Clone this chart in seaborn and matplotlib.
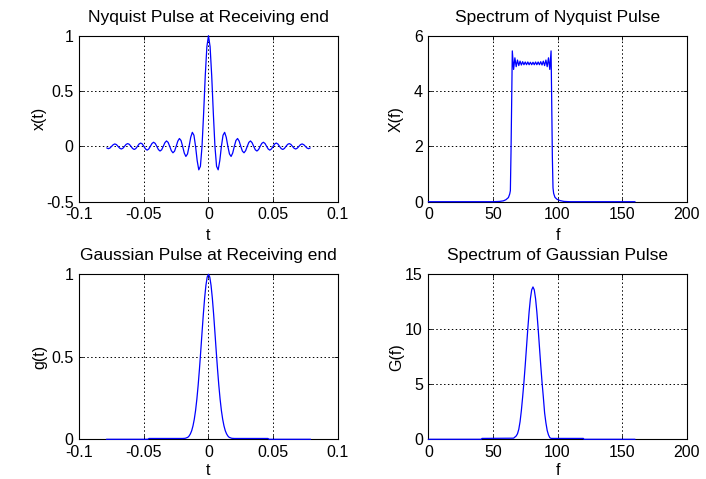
import matplotlib

matplotlib.use("Agg")

import matplotlib.pyplot as plt
import seaborn as sns


# Nyquist pulse x(t)
nyq_t = [
    -0.07875, -0.0775, -0.07625, -0.075, -0.07375, -0.0725, -0.07125, -0.07,
    -0.06875, -0.0675, -0.06625, -0.065, -0.06375, -0.0625, -0.06125, -0.06,
    -0.05875, -0.0575, -0.05625, -0.055, -0.05375, -0.0525, -0.05125, -0.05,
    -0.04875, -0.0475, -0.04625, -0.045, -0.04375, -0.0425, -0.04125, -0.04,
    -0.03875, -0.0375, -0.03625, -0.035, -0.03375, -0.0325, -0.03125, -0.03,
    -0.02875, -0.0275, -0.02625, -0.025, -0.02375, -0.0225, -0.02125, -0.02,
    -0.01875, -0.0175, -0.01625, -0.015, -0.01375, -0.0125, -0.01125, -0.01,
    -0.00875, -0.0075, -0.00625, -0.005, -0.00375, -0.0025, -0.00125, 0.0,
    0.00125, 0.0025, 0.00375, 0.005, 0.00625, 0.0075, 0.00875, 0.01,
    0.01125, 0.0125, 0.01375, 0.015, 0.01625, 0.0175, 0.01875, 0.02,
    0.02125, 0.0225, 0.02375, 0.025, 0.02625, 0.0275, 0.02875, 0.03,
    0.03125, 0.0325, 0.03375, 0.035, 0.03625, 0.0375, 0.03875, 0.04,
    0.04125, 0.0425, 0.04375, 0.045, 0.04625, 0.0475, 0.04875, 0.05,
    0.05125, 0.0525, 0.05375, 0.055, 0.05625, 0.0575, 0.05875, 0.06,
    0.06125, 0.0625, 0.06375, 0.065, 0.06625, 0.0675, 0.06875, 0.07,
    0.07125, 0.0725, 0.07375, 0.075, 0.07625, 0.0775, 0.07875,
]
nyq_x = [
    -0.014, -0.021, -0.015, 0.0, 0.015, 0.022, 0.016, 0.0,
    -0.016, -0.024, -0.017, 0.0, 0.018, 0.025, 0.018, 0.0,
    -0.019, -0.028, -0.020, 0.0, 0.021, 0.030, 0.022, 0.0,
    -0.023, -0.034, -0.024, 0.0, 0.026, 0.037, 0.027, 0.0,
    -0.029, -0.042, -0.031, 0.0, 0.033, 0.049, 0.036, 0.0,
    -0.039, -0.058, -0.043, 0.0, 0.047, 0.071, 0.053, 0.0,
    -0.060, -0.091, -0.069, 0.0, 0.082, 0.127, 0.100, 0.0,
    -0.129, -0.212, -0.180, 0.0, 0.300, 0.637, 0.900, 1.0,
    0.900, 0.637, 0.300, 0.0, -0.180, -0.212, -0.129, 0.0,
    0.100, 0.127, 0.082, 0.0, -0.069, -0.091, -0.060, 0.0,
    0.053, 0.071, 0.047, 0.0, -0.043, -0.058, -0.039, 0.0,
    0.036, 0.049, 0.033, 0.0, -0.031, -0.042, -0.029, 0.0,
    0.027, 0.037, 0.026, 0.0, -0.024, -0.034, -0.023, 0.0,
    0.022, 0.030, 0.021, 0.0, -0.020, -0.028, -0.019, 0.0,
    0.018, 0.025, 0.018, 0.0, -0.017, -0.024, -0.016, 0.0,
    0.016, 0.022, 0.015, 0.0, -0.015, -0.021, -0.014,
]

# Spectrum of the Nyquist pulse X(f)
nyq_f = [
    0, 50, 55, 58, 60, 62, 63, 63.5, 64, 64.5,
    65, 66, 67, 68, 69, 70, 71, 72, 73, 74, 75, 76, 77, 78, 79, 80,
    81, 82, 83, 84, 85, 86, 87, 88, 89, 90, 91, 92, 93, 94, 95,
    95.5, 96, 96.5, 97, 98, 99.5, 102, 105, 110, 160,
]
nyq_X = [
    0.0, 0.0, 0.01, 0.03, 0.07, 0.15, 0.28, 0.4, 1.8, 3.6,
    5.45, 4.78, 5.20, 4.88, 5.12, 4.92, 5.08, 4.94, 5.06, 4.95, 5.05, 4.95,
    5.05, 4.95, 5.04, 4.95,
    5.04, 4.95, 5.05, 4.95, 5.05, 4.95, 5.06, 4.94, 5.08, 4.92, 5.12, 4.88,
    5.20, 4.78, 5.45,
    3.6, 1.6, 0.5, 0.3, 0.16, 0.09, 0.04, 0.01, 0.0, 0.0,
]

# Gaussian pulse g(t)
gau_t = [
    -0.079, -0.047, -0.046, -0.020, -0.018, -0.016, -0.015, -0.014, -0.013,
    -0.012, -0.011, -0.010, -0.009, -0.008, -0.007, -0.006, -0.005, -0.004,
    -0.003, -0.002, -0.001, 0.0, 0.001, 0.002, 0.003, 0.004, 0.005, 0.006,
    0.007, 0.008, 0.009, 0.010, 0.011, 0.012, 0.013, 0.014, 0.015, 0.016,
    0.018, 0.020, 0.046, 0.047, 0.079,
]
gau_g = [
    0.0, 0.0, 0.005, 0.005, 0.006, 0.012, 0.020, 0.033, 0.052,
    0.081, 0.121, 0.174, 0.243, 0.327, 0.425, 0.533, 0.646, 0.756,
    0.854, 0.932, 0.983, 1.0, 0.983, 0.932, 0.854, 0.756, 0.646, 0.533,
    0.425, 0.327, 0.243, 0.174, 0.121, 0.081, 0.052, 0.033, 0.020, 0.012,
    0.006, 0.005, 0.005, 0.0, 0.0,
]

# Spectrum of the Gaussian pulse G(f)
gau_f = [
    0, 41, 41.5, 66, 68, 69, 70, 71, 72, 73, 74, 75, 76, 77, 78, 79, 80,
    81, 82, 83, 84, 85, 86, 87, 88, 89, 90, 91, 92, 93, 94, 95, 120,
    120.5, 160,
]
gau_G = [
    0.0, 0.0, 0.08, 0.1, 0.3, 0.5, 0.9, 1.6, 2.6, 3.85, 5.20, 6.74, 8.40,
    10.06, 11.57, 12.78, 13.58,
    13.85, 13.58, 12.78, 11.57, 10.06, 8.40, 6.74, 5.20, 3.85, 2.4, 1.5,
    0.8, 0.4, 0.15, 0.08, 0.08,
    0.0, 0.0,
]

time_ticks = [-0.1, -0.05, 0, 0.05, 0.1]
time_labels = ["-0.1", "-0.05", "0", "0.05", "0.1"]
freq_ticks = [0, 50, 100, 150, 200]
freq_labels = ["0", "50", "100", "150", "200"]

panels = [
    dict(x=nyq_t, y=nyq_x, title="Nyquist Pulse at Receiving end",
         xlabel="t", ylabel="x(t)", xticks=time_ticks, xlabels=time_labels,
         yticks=[-0.5, 0, 0.5, 1], ylabels=["-0.5", "0", "0.5", "1"],
         rect=[0.1123, 0.5789, 0.3660, 0.3466], xlab_y=-0.157, ylab_x=-0.125),
    dict(x=nyq_f, y=nyq_X, title="Spectrum of Nyquist Pulse",
         xlabel="f", ylabel="X(f)", xticks=freq_ticks, xlabels=freq_labels,
         yticks=[0, 2, 4, 6], ylabels=["0", "2", "4", "6"],
         rect=[0.6067, 0.5789, 0.3660, 0.3466], xlab_y=-0.157, ylab_x=-0.094),
    dict(x=gau_t, y=gau_g, title="Gaussian Pulse at Receiving end",
         xlabel="t", ylabel="g(t)", xticks=time_ticks, xlabels=time_labels,
         yticks=[0, 0.5, 1], ylabels=["0", "0.5", "1"],
         rect=[0.1123, 0.0829, 0.3660, 0.3445], xlab_y=-0.142, ylab_x=-0.125),
    dict(x=gau_f, y=gau_G, title="Spectrum of Gaussian Pulse",
         xlabel="f", ylabel="G(f)", xticks=freq_ticks, xlabels=freq_labels,
         yticks=[0, 5, 10, 15], ylabels=["0", "5", "10", "15"],
         rect=[0.6067, 0.0829, 0.3660, 0.3445], xlab_y=-0.142, ylab_x=-0.094),
]

sns.set_theme(style="white")
plt.rcParams["font.family"] = ["Liberation Sans", "DejaVu Sans"]
plt.rcParams["axes.edgecolor"] = "black"
plt.rcParams["axes.linewidth"] = 0.8

fig = plt.figure(figsize=(7.06, 4.79), dpi=100)

for p in panels:
    ax = fig.add_axes(p["rect"])
    sns.lineplot(x=p["x"], y=p["y"], ax=ax, color="blue", linewidth=0.9,
                 estimator=None, sort=False, clip_on=False, zorder=5)
    ax.set_xlim(p["xticks"][0], p["xticks"][-1])
    ax.set_ylim(p["yticks"][0], p["yticks"][-1])
    ax.set_xticks(p["xticks"], p["xlabels"])
    ax.set_yticks(p["yticks"], p["ylabels"])
    ax.tick_params(direction="in", top=True, right=True, bottom=True,
                   left=True, length=3, width=0.6, labelsize=11.5,
                   colors="black")
    ax.tick_params(axis="x", pad=4)
    ax.tick_params(axis="y", pad=4)
    ax.grid(True, color="black", linestyle=(0, (1.5, 2.5)), linewidth=0.7)
    ax.set_title(p["title"], fontsize=12.5, pad=10, color="black")
    ax.set_xlabel(p["xlabel"], fontsize=11.5, color="black")
    ax.set_ylabel(p["ylabel"], fontsize=11.5, color="black")
    ax.xaxis.set_label_coords(0.5, p["xlab_y"])
    ax.yaxis.set_label_coords(p["ylab_x"], 0.5)
    for spine in ax.spines.values():
        spine.set_visible(True)
        spine.set_color("black")

plt.savefig("out.png", dpi=100)
plt.close()
